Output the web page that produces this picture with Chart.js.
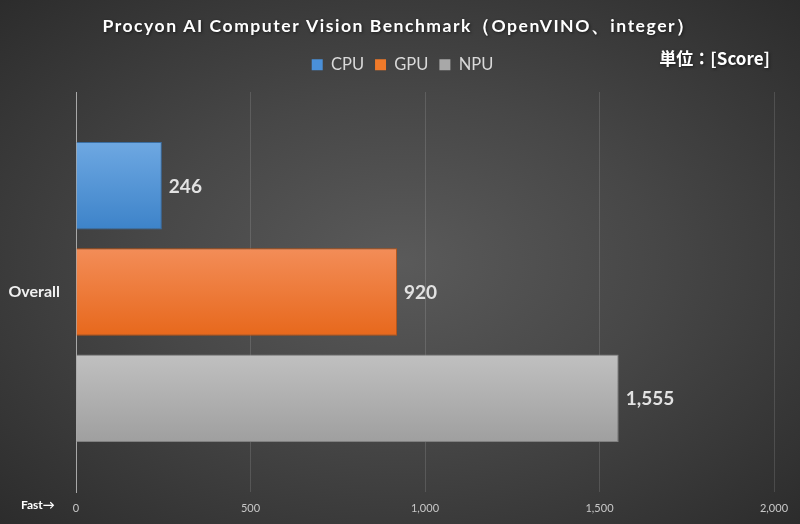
<!DOCTYPE html>
<html>
<head>
<meta charset="utf-8">
<script src="https://cdn.jsdelivr.net/npm/chart.js@4/dist/chart.umd.min.js"></script>
<style>
  html, body { margin: 0; padding: 0; }
  #wrap {
    width: 800px; height: 524px; position: relative;
    background: radial-gradient(ellipse at 50% 50%, #5a5a5a 0%, #474747 45%, #2c2c2c 100%);
  }
</style>
</head>
<body>
<div id="wrap"><canvas id="myChart" width="800" height="524"></canvas></div>
<script>
var chartTitle = 'Procyon AI Computer Vision Benchmark（OpenVINO、integer）'
var unitText = '単位：[Score]'
var categories = ['Overall']
var seriesNames = ['CPU', 'GPU', 'NPU']
var cpuValues = [246]
var gpuValues = [920]
var npuValues = [1555]
var xTicks = [0, 500, 1000, 1500, 2000]

// top / bottom colours of each bar's gradient
var barTop = ['#6ea8e2', '#f38d58', '#c0c0c0']
var barBottom = ['#3d83c9', '#e7681c', '#9f9f9f']
var barBorder = ['#3a6ea2', '#b85416', '#808080']
var legendColors = ['#4a90d9', '#f07a2a', '#a8a8a8']

const gradientBars = {
    id: 'gradientBars',
    beforeDatasetsDraw(chart) {
        const ctx = chart.ctx
        chart.data.datasets.forEach((ds, i) => {
            chart.getDatasetMeta(i).data.forEach((bar) => {
                const t = bar.y - bar.height / 2
                const g = ctx.createLinearGradient(0, t, 0, t + bar.height)
                g.addColorStop(0, barTop[i])
                g.addColorStop(1, barBottom[i])
                bar.options.backgroundColor = g
            })
        })
    }
}

const valueLabels = {
    id: 'valueLabels',
    afterDatasetsDraw(chart) {
        const ctx = chart.ctx
        ctx.save()
        ctx.font = 'bold 19px Lato'
        ctx.fillStyle = '#e2e2e2'
        ctx.textBaseline = 'middle'
        chart.data.datasets.forEach((ds, i) => {
            chart.getDatasetMeta(i).data.forEach((bar, k) => {
                ctx.fillText(ds.data[k].toLocaleString('en-US'), bar.x + 7, bar.y + 1)
            })
        })
        ctx.restore()
    }
}

// legend: more room below it, nudged right like the original
const legendTweak = {
    id: 'legendTweak',
    beforeInit(chart) {
        const fit = chart.legend.fit
        chart.legend.fit = function () {
            fit.bind(chart.legend)()
            this.height += 9
        }
    },
    afterLayout(chart) {
        chart.legend.left += 25
    }
}

// title (letter-spaced), unit note and the "Fast→" hint
const extraText = {
    id: 'extraText',
    afterDraw(chart) {
        const ctx = chart.ctx
        ctx.save()
        ctx.fillStyle = '#ffffff'
        ctx.shadowColor = 'rgba(0,0,0,0.55)'
        ctx.shadowBlur = 3
        ctx.shadowOffsetX = 1
        ctx.shadowOffsetY = 1
        ctx.textAlign = 'center'
        ctx.textBaseline = 'alphabetic'
        ctx.font = 'bold 17.6px Lato'
        ctx.letterSpacing = '1.5px'
        ctx.fillText(chartTitle, 399, 31.5)
        ctx.letterSpacing = '0px'
        ctx.textBaseline = 'middle'
        ctx.font = 'bold 17px "Noto Sans CJK JP"'
        ctx.textAlign = 'right'
        ctx.fillText(unitText, 770, 59)
        ctx.shadowColor = 'transparent'
        ctx.font = 'bold 12px Lato'
        ctx.textAlign = 'left'
        ctx.fillText('Fast→', 21, 505)
        ctx.restore()
    }
}

const config = {
    type: 'bar',
    data: {
        labels: categories,
        datasets: [
            { label: seriesNames[0], data: cpuValues, backgroundColor: legendColors[0], borderColor: barBorder[0], borderWidth: 1 },
            { label: seriesNames[1], data: gpuValues, backgroundColor: legendColors[1], borderColor: barBorder[1], borderWidth: 1 },
            { label: seriesNames[2], data: npuValues, backgroundColor: legendColors[2], borderColor: barBorder[2], borderWidth: 1 }
        ]
    },
    options: {
        indexAxis: 'y',
        responsive: false,
        animation: false,
        categoryPercentage: 0.797,
        barPercentage: 0.824,
        layout: { padding: { left: 6, right: 26, top: 45.5, bottom: 4 } },
        plugins: {
            title: { display: false },
            legend: {
                labels: {
                    color: '#dadada',
                    font: { family: 'Lato', size: 16.5 },
                    boxWidth: 11,
                    boxHeight: 11,
                    padding: 11,
                    generateLabels: (chart) => seriesNames.map((n, i) => ({
                        text: n, fillStyle: legendColors[i], strokeStyle: legendColors[i],
                        lineWidth: 0, fontColor: '#dadada', datasetIndex: i
                    }))
                }
            },
            tooltip: { enabled: false }
        },
        scales: {
            x: {
                min: 0,
                max: 2000,
                afterBuildTicks: (scale) => { scale.ticks = xTicks.map(v => ({ value: v })) },
                afterFit: (scale) => { scale.height = 28 },
                ticks: {
                    color: '#c8c8c8',
                    font: { family: 'Lato', size: 11 },
                    padding: 10,
                    callback: (v) => v.toLocaleString('en-US')
                },
                grid: { color: 'rgba(255,255,255,0.13)', drawTicks: false },
                border: { display: false }
            },
            y: {
                afterFit: (scale) => { scale.width = 70 },
                ticks: {
                    color: '#f0f0f0',
                    font: { family: 'Lato', size: 16, weight: 'bold' },
                    padding: 16
                },
                grid: { display: false, drawTicks: false },
                border: { color: '#a8a8a8', width: 1 }
            }
        }
    },
    plugins: [gradientBars, valueLabels, legendTweak, extraText]
};
const myChart = new Chart(
    document.getElementById('myChart'),
    config
);
</script>
</body>
</html>
